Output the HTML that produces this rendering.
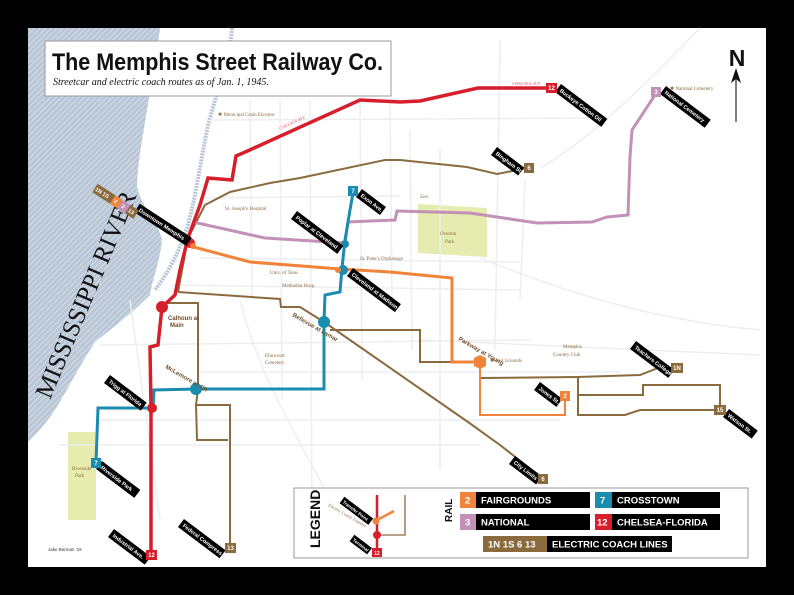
<!DOCTYPE html>
<html><head><meta charset="utf-8"><style>
html,body{margin:0;padding:0;background:#000;}
svg{display:block;}
</style></head><body>
<svg width="794" height="595" viewBox="0 0 794 595" xmlns="http://www.w3.org/2000/svg">
<defs>
<pattern id="hatch" width="4" height="4" patternUnits="userSpaceOnUse" patternTransform="rotate(45)">
<rect width="4" height="4" fill="#b9c6d6"/><line x1="0" y1="0" x2="0" y2="4" stroke="#e4e9f0" stroke-width="1.3"/>
</pattern>
</defs>
<rect x="0" y="0" width="794" height="595" fill="#000"/>
<rect x="28" y="28" width="738" height="539" fill="#fff"/>
<!-- river -->
<path d="M28,28 L160,28 C156,60 150,90 147,110 C143,135 138,160 137,185 C139,205 158,220 162,240 C160,262 152,280 150,295 C130,315 110,330 95,342 C80,365 70,385 55,410 C45,425 35,435 28,442 Z" fill="url(#hatch)"/>
<path d="M232,28 C230,60 215,95 207,130 C200,165 196,195 188,225 C180,250 170,270 155,290" fill="none" stroke="#b9c6d6" stroke-width="4" stroke-dasharray="2,1"/>
<text x="0" y="0" transform="translate(50,400) rotate(-67)" font-family="Liberation Serif,serif" font-size="25" textLength="222" fill="#111">MISSISSIPPI RIVER</text>
<!-- parks -->
<polygon points="418,204 487,208 487,257 418,253" fill="#e6ebb0"/>
<rect x="68" y="432" width="28" height="88" fill="#e6ebb0"/>
<!-- streets -->
<g stroke="#eceef2" stroke-width="1.5" fill="none">
<path d="M700,28 C650,80 590,140 540,168"/>
<path d="M480,258 C560,290 650,320 760,330"/>
<path d="M210,120 L600,118"/><path d="M200,198 L400,196"/><path d="M200,258 L520,262"/>
<path d="M170,285 L520,290"/><path d="M100,345 L530,340"/><path d="M200,372 L620,372"/>
<path d="M100,420 L560,420"/><path d="M60,445 L480,445"/><path d="M420,340 L760,355"/>
<path d="M250,100 L252,300"/><path d="M280,100 L282,400"/><path d="M310,100 L312,520"/>
<path d="M360,100 L362,380"/><path d="M390,100 L392,300"/><path d="M410,130 L412,350"/>
<path d="M440,150 L440,470"/><path d="M500,40 L495,350"/><path d="M525,180 L520,300"/>
<path d="M240,300 C260,380 300,440 330,500"/><path d="M130,300 L160,520"/>
</g>
<!-- brown coach lines -->
<g stroke="#8b6a3e" stroke-width="2" fill="none">
<path d="M178,292 L188,238 L205,205 L230,192 L270,183 L300,178 L385,160 L400,160 L467,167 L497,174 L527,168"/>
<path d="M178,292 L280,299 L281,307 L300,307 L324,322 L468,422 L500,445 L542,478"/>
<path d="M330,330 L420,330 L420,362 L478,362"/>
<path d="M481,378 L578,377 L640,375 L658,368 L671,368"/>
<path d="M578,377 L578,415 L625,415 L640,410 L720,410 L720,385 L643,385 L643,395 L578,395"/>
<path d="M162,303 L198,303 L198,389 L196,405 L230,405 L230,548"/>
<path d="M196,405 L197,440 L228,440"/>
</g>
<!-- purple -->
<path d="M193,222 L265,238 L345,243 L348,222 L395,220 L397,211 L470,213 L537,223 L592,222 L607,217 L628,215 L630,157 L632,130 L655,95" stroke="#c391b8" stroke-width="3" fill="none"/>
<!-- orange -->
<path d="M190,246 L250,262 L340,269 L390,272 L452,278 L452,362 L480,362" stroke="#f0843a" stroke-width="3" fill="none"/>
<path d="M480,362 L480,415 L565,415 L565,400" stroke="#f0843a" stroke-width="2" fill="none"/>
<!-- blue -->
<path d="M353,193 L350,210 L345,240 L342,268 L340,292 L325,295 L324,322 L324,389 L196,389 L154,390 L153,408 L98,408 L96,462" stroke="#1a8cb0" stroke-width="3" fill="none"/>
<!-- red -->
<path d="M550,88 L478,88 L420,101 L400,102 L360,100 L243,153 L236,156 L232,180 L208,178 L200,205 L188,238 L180,270 L175,295 L162,307 L158,345 L150,347 L151,408 L151,555" stroke="#d71f2b" stroke-width="3.5" fill="none"/>
<!-- nodes -->
<circle cx="190" cy="243" r="5" fill="#d71f2b"/><circle cx="193" cy="246" r="3" fill="#f0843a"/>
<circle cx="162" cy="307" r="6" fill="#d71f2b"/>
<circle cx="152" cy="408" r="5" fill="#d71f2b"/>
<circle cx="343" cy="270" r="5" fill="#1a8cb0"/><circle cx="338" cy="270" r="3" fill="#f0843a"/>
<circle cx="345" cy="244" r="4" fill="#1a8cb0"/>
<circle cx="324" cy="322" r="6" fill="#1a8cb0"/>
<circle cx="196" cy="389" r="6" fill="#1a8cb0"/>
<polygon points="480,355 486,358 486,366 480,369 474,366 474,358" fill="#f0843a"/>
<!-- small labels -->
<g font-family="Liberation Serif,serif" font-size="5" fill="#8b6a3e">
<text x="218" y="116">✱ Municipal Grain Elevator</text>
<text x="225" y="210">St. Joseph's Hospital</text>
<text x="270" y="274">Univ. of Tenn.</text>
<text x="282" y="287">Methodist Hosp.</text>
<text x="360" y="260">St. Peter's Orphanage</text>
<text x="265" y="357">Elmwood</text><text x="265" y="364">Cemetery</text>
<text x="420" y="198">Zoo</text>
<text x="440" y="235">Overton</text><text x="445" y="243">Park</text>
<text x="490" y="362">✱ Fair Grounds</text>
<text x="563" y="348">Memphis</text><text x="553" y="356">Country Club</text>
<text x="670" y="90">✱ National Cemetery</text>
<text x="72" y="470">Riverside</text><text x="75" y="477">Park</text>
</g>
<g font-family="Liberation Sans,sans-serif" font-size="6" font-weight="bold" fill="#6b4f2a">
<text x="168" y="320">Calhoun at</text><text x="170" y="327">Main</text>
<text x="165" y="368" transform="rotate(30 165 368)">McLemore at 4th</text>
<text x="292" y="316" transform="rotate(30 292 316)">Bellevue at Lamar</text>
<text x="458" y="340" transform="rotate(30 458 340)">Parkway at Young</text>
</g>
<g font-family="Liberation Serif,serif" font-size="4.5" font-style="italic" fill="#e0606a">
<text x="280" y="130" transform="rotate(-25 280 130)">CHELSEA AVE</text>
<text x="512" y="85">CHELSEA AVE</text>
</g>
<!-- tags -->
<g font-family="Liberation Sans,sans-serif" font-size="5.5" font-weight="bold" fill="#fff">
<g transform="translate(137,208) rotate(33)"><rect x="0" y="-5" width="62" height="10" fill="#000"/><text x="3" y="2">Downtown Memphis</text></g>
<g transform="translate(558,88) rotate(37)"><rect x="0" y="-5" width="58" height="10" fill="#000"/><text x="3" y="2">Buckeye Cotton Oil</text></g>
<g transform="translate(663,90) rotate(37)"><rect x="0" y="-5" width="56" height="10" fill="#000"/><text x="3" y="2">National Cemetery</text></g>
<g transform="translate(494,151) rotate(37)"><rect x="0" y="-5" width="34" height="10" fill="#000"/><text x="3" y="2">Bingham St.</text></g>
<g transform="translate(359,193) rotate(37)"><rect x="0" y="-5" width="30" height="10" fill="#000"/><text x="3" y="2">Exon Ave.</text></g>
<g transform="translate(294,215) rotate(37)"><rect x="0" y="-5" width="58" height="10" fill="#000"/><text x="3" y="2">Poplar at Cleveland</text></g>
<g transform="translate(350,272) rotate(37)"><rect x="0" y="-5" width="60" height="10" fill="#000"/><text x="3" y="2">Cleveland at Madison</text></g>
<g transform="translate(633,345) rotate(37)"><rect x="0" y="-5" width="48" height="10" fill="#000"/><text x="3" y="2">Teachers College</text></g>
<g transform="translate(726,413) rotate(37)"><rect x="0" y="-5" width="36" height="10" fill="#000"/><text x="3" y="2">Watson St.</text></g>
<g transform="translate(537,386) rotate(37)"><rect x="0" y="-5" width="28" height="10" fill="#000"/><text x="3" y="2">Jones St.</text></g>
<g transform="translate(512,460) rotate(37)"><rect x="0" y="-5" width="34" height="10" fill="#000"/><text x="3" y="2">City Limits</text></g>
<g transform="translate(181,523) rotate(37)"><rect x="0" y="-5" width="52" height="10" fill="#000"/><text x="3" y="2">Federal Compress</text></g>
<g transform="translate(111,533) rotate(37)"><rect x="0" y="-5" width="46" height="10" fill="#000"/><text x="3" y="2">Industrial Ave.</text></g>
<g transform="translate(99,465) rotate(37)"><rect x="0" y="-5" width="48" height="10" fill="#000"/><text x="3" y="2">Riverside Park</text></g>
<g transform="translate(107,379) rotate(37)"><rect x="0" y="-5" width="46" height="10" fill="#000"/><text x="3" y="2">Trigg at Florida</text></g>
<g transform="translate(95,188) rotate(33)">
<rect x="0" y="-5" width="21" height="10" fill="#8b6a3e"/><text x="1" y="2">1N 1S</text>
<rect x="21" y="-5" width="9" height="10" fill="#f0843a"/><text x="23" y="2">2</text>
<rect x="30" y="-5" width="9" height="10" fill="#c391b8"/><text x="32" y="2">3</text>
<rect x="39" y="-5" width="10" height="10" fill="#8b6a3e"/><text x="40" y="2">13</text>
</g>
</g>
<!-- terminal boxes -->
<g font-family="Liberation Sans,sans-serif" font-size="6" font-weight="bold" fill="#fff" text-anchor="middle">
<rect x="546" y="83" width="11" height="10" fill="#d71f2b"/><text x="551.5" y="90">12</text>
<rect x="651" y="87" width="10" height="10" fill="#c391b8"/><text x="656" y="94">3</text>
<rect x="524" y="163" width="10" height="10" fill="#8b6a3e"/><text x="529" y="170">6</text>
<rect x="348" y="186" width="10" height="10" fill="#1a8cb0"/><text x="353" y="193">7</text>
<rect x="671" y="363" width="12" height="10" fill="#8b6a3e"/><text x="677" y="370">1N</text>
<rect x="714" y="405" width="12" height="10" fill="#8b6a3e"/><text x="720" y="412">15</text>
<rect x="560" y="391" width="10" height="10" fill="#f0843a"/><text x="565" y="398">2</text>
<rect x="538" y="474" width="10" height="10" fill="#8b6a3e"/><text x="543" y="481">6</text>
<rect x="225" y="543" width="11" height="10" fill="#8b6a3e"/><text x="230.5" y="550">13</text>
<rect x="146" y="550" width="11" height="10" fill="#d71f2b"/><text x="151.5" y="557">12</text>
<rect x="91" y="458" width="10" height="10" fill="#1a8cb0"/><text x="96" y="465">7</text>
</g>
<!-- title -->
<rect x="45" y="41" width="346" height="55" fill="#fff" stroke="#999" stroke-width="1"/>
<text x="52" y="70" font-family="Liberation Sans,sans-serif" font-size="24" font-weight="bold" textLength="331" lengthAdjust="spacingAndGlyphs" fill="#111">The Memphis Street Railway Co.</text>
<text x="53" y="85" font-family="Liberation Serif,serif" font-size="10" font-style="italic" fill="#111">Streetcar and electric coach routes as of Jan. 1, 1945.</text>
<!-- north -->
<text x="737" y="66" font-family="Liberation Sans,sans-serif" font-size="23" font-weight="bold" text-anchor="middle" fill="#111">N</text>
<line x1="736" y1="122" x2="736" y2="76" stroke="#555" stroke-width="1.5"/>
<polygon points="736,68 731,83 736,79 741,83" fill="#111"/>
<text x="48" y="551" font-family="Liberation Sans,sans-serif" font-size="4.5" fill="#333">Jake Berman '19</text>
<!-- legend -->
<rect x="294" y="488" width="454" height="70" fill="#fff" stroke="#999" stroke-width="1"/>
<text transform="translate(320,548) rotate(-90)" font-family="Liberation Sans,sans-serif" font-size="14" font-weight="bold" fill="#111">LEGEND</text>
<path d="M377,495 L377,555" stroke="#d71f2b" stroke-width="2.5"/>
<path d="M379,519 L394,511" stroke="#f0843a" stroke-width="2.5"/>
<path d="M377,535 L405,535 L405,495" stroke="#8b6a3e" stroke-width="1.3" fill="none"/>
<circle cx="377" cy="535" r="4" fill="#d71f2b"/>
<circle cx="376" cy="521" r="3.5" fill="#f0843a"/>
<rect x="372" y="548" width="10" height="9" fill="#d71f2b"/>
<text x="377" y="555" font-family="Liberation Sans,sans-serif" font-size="5" font-weight="bold" fill="#fff" text-anchor="middle">12</text>
<g font-family="Liberation Sans,sans-serif" font-size="4.5" font-weight="bold" fill="#fff">
<g transform="translate(342,500) rotate(37)"><rect x="0" y="-4" width="36" height="8" fill="#000"/><text x="2" y="2">Transfer Point</text></g>
<g transform="translate(352,538) rotate(37)"><rect x="0" y="-4" width="22" height="8" fill="#000"/><text x="2" y="2">Terminal</text></g>
</g>
<text transform="translate(328,506) rotate(30)" font-family="Liberation Serif,serif" font-size="4.5" fill="#8b6a3e">Electric Coach Transfer</text>
<text transform="translate(452,522) rotate(-90)" font-family="Liberation Sans,sans-serif" font-size="10" font-weight="bold" fill="#111">RAIL</text>
<g font-family="Liberation Sans,sans-serif" font-size="9.5" font-weight="bold" fill="#fff">
<rect x="460" y="492" width="16" height="16" fill="#f0843a"/><text x="465" y="503.5">2</text>
<rect x="476" y="492" width="114" height="16" fill="#000"/><text x="481" y="503.5">FAIRGROUNDS</text>
<rect x="595" y="492" width="17" height="16" fill="#1a8cb0"/><text x="600" y="503.5">7</text>
<rect x="612" y="492" width="108" height="16" fill="#000"/><text x="617" y="503.5">CROSSTOWN</text>
<rect x="460" y="514" width="16" height="16" fill="#c391b8"/><text x="465" y="525.5">3</text>
<rect x="476" y="514" width="114" height="16" fill="#000"/><text x="481" y="525.5">NATIONAL</text>
<rect x="595" y="514" width="17" height="16" fill="#d71f2b"/><text x="597" y="525.5">12</text>
<rect x="612" y="514" width="108" height="16" fill="#000"/><text x="617" y="525.5">CHELSEA-FLORIDA</text>
<rect x="483" y="536" width="64" height="16" fill="#8b6a3e"/><text x="488" y="547.5">1N 1S 6 13</text>
<rect x="547" y="536" width="125" height="16" fill="#000"/><text x="552" y="547.5">ELECTRIC COACH LINES</text>
</g>
</svg>
</body></html>
